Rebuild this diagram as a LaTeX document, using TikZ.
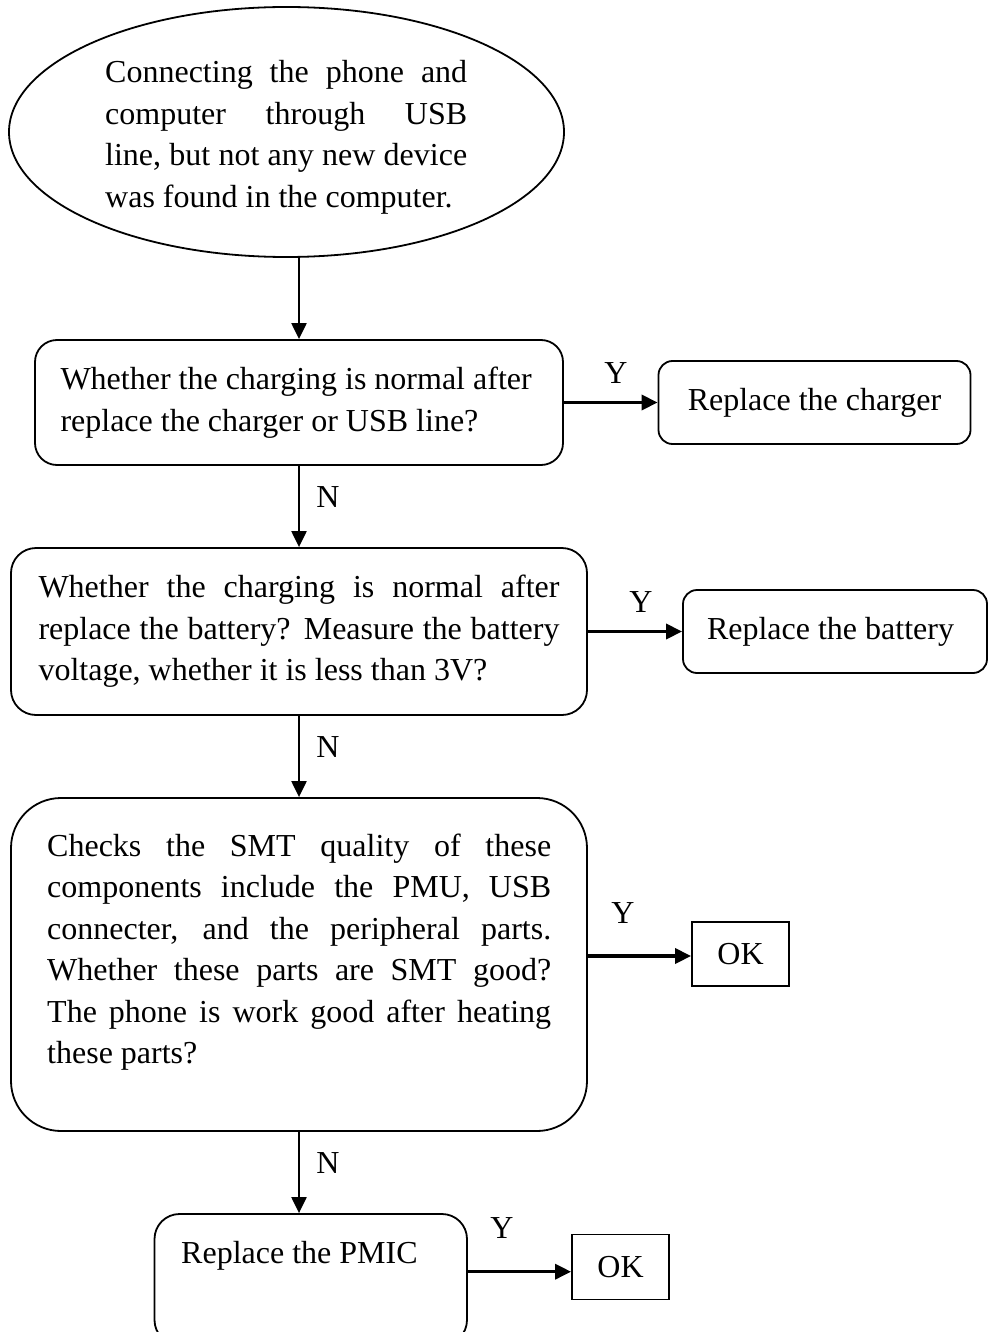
\documentclass[tikz,border=0pt]{standalone}
\usepackage{fontspec}
\setmainfont{Liberation Serif}
\usetikzlibrary{arrows.meta,shapes.geometric}
\newcommand{\jline}[2]{\makebox[#1][s]{#2}}
\newcommand{\nsp}{\spaceskip=0pt\xspaceskip=0pt\relax}
\begin{document}
\begin{tikzpicture}[x=1pt,y=-1pt,
  every node/.style={font=\fontsize{32}{41.5}\selectfont, inner sep=0pt},
  rbox/.style={draw, line width=1.8pt, rounded corners=#1},
  sbox/.style={draw, line width=1.8pt},
  varr/.style={line width=2.2pt, -{Triangle[length=16pt,width=15pt]}},
  harr/.style={line width=3.4pt, -{Triangle[length=16pt,width=15pt]}},
  txt/.style={anchor=base west, align=justify}
]
\path[use as bounding box] (0,0) rectangle (988,1332);
\clip (0,0) rectangle (988,1332);

% start ellipse
\node[ellipse, draw, line width=1.8pt, minimum width=555pt, minimum height=250pt] (start) at (286.5,132) {};
\node[txt, text width=362pt] (t0) at (105,83)
  {\nsp\jline{362pt}{Connecting the phone and}\\
   \jline{362pt}{computer through USB}\\
   \jline{362pt}{line, but not any new device}\\
   was found in the computer.};

% box 1 and 2
\node[rbox=22pt, minimum width=528pt, minimum height=125pt, text width=477pt, align=justify] (b1) at (299,402.5)
  {\nsp Whether the charging is normal after\\replace the charger or USB line?};
\node[rbox=14pt, minimum width=312pt, minimum height=83pt] (b2) at (814.5,402.5) {Replace the charger};

% box 3 and 4
\node[rbox=25pt, minimum width=576pt, minimum height=167pt, text width=521pt, align=justify] (b3) at (299,631.5)
  {\nsp\jline{521pt}{Whether the charging is normal after}\\
   \jline{521pt}{replace the battery? Measure the battery}\\
   voltage, whether it is less than 3V?};
\node[rbox=14pt, minimum width=304pt, minimum height=83pt, text width=256pt, align=justify] (b4) at (835,631.5) {\nsp Replace the battery};

% box 5 and OK
\node[rbox=50pt, minimum width=576pt, minimum height=333pt] (b5) at (299,964.5) {};
\node[txt, text width=504pt] (t5) at (47,856)
  {\nsp\jline{504pt}{Checks the SMT quality of these}\\
   \jline{504pt}{components include the PMU, USB}\\
   \jline{504pt}{connecter, and the peripheral parts.}\\
   \jline{504pt}{Whether these parts are SMT good?}\\
   \jline{504pt}{The phone is work good after heating}\\
   these parts?};
\node[sbox, minimum width=97pt, minimum height=64pt] (ok1) at (740.5,954) {OK};

% box 6 and OK
\node[rbox=25pt, minimum width=312.5pt, minimum height=131pt] (b6) at (310.75,1279.5) {};
\node[txt, text width=260pt] (t6) at (181,1263) {\nsp Replace the PMIC};
\node[sbox, minimum width=97pt, minimum height=65pt] (ok2) at (620.5,1267) {OK};

% labels
\node (y1) at (616,373) {Y};
\node (n1) at (328,497) {N};
\node (y2) at (641,602) {Y};
\node (n2) at (328,747) {N};
\node (y3) at (623,913) {Y};
\node (n3) at (328,1163) {N};
\node (y4) at (502,1228) {Y};

% connectors
\draw[varr] (start.south -| b1.north) -- (b1.north);
\draw[varr] (b1.south) -- (b3.north);
\draw[varr] (b3.south) -- (b5.north);
\draw[varr] (b5.south) -- (b5.south |- b6.north);
\draw[harr] (b1.east) -- (b2.west);
\draw[harr] (b3.east) -- (b4.west);
\draw[harr] ([yshift=-2pt]ok1.west -| b5.east) -- ([yshift=-2pt]ok1.west);
\draw[harr] ([yshift=-4.7pt]ok2.west -| b6.east) -- ([yshift=-4.7pt]ok2.west);
\end{tikzpicture}
\end{document}
